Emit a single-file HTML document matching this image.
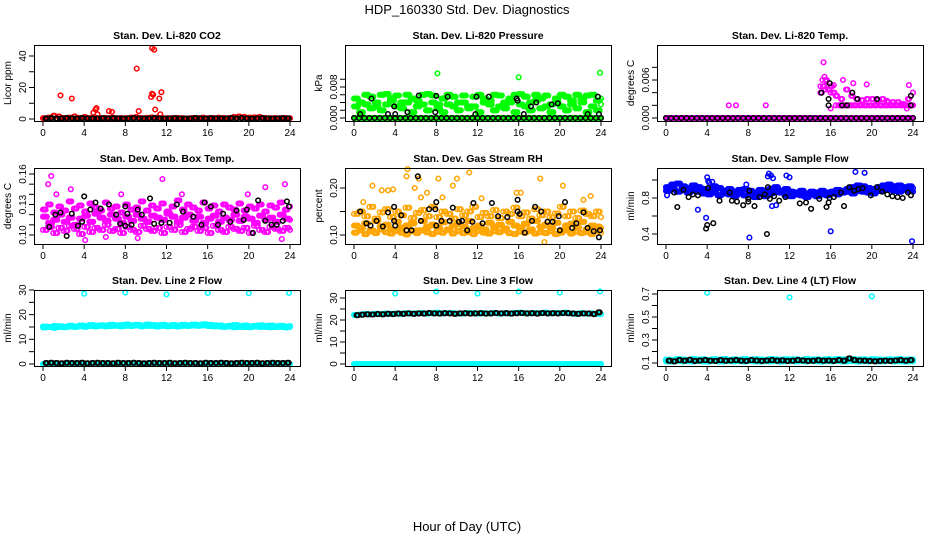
<!DOCTYPE html>
<html><head><meta charset="utf-8"><style>
body{margin:0;background:#fff}
svg{display:block}
text{font-family:"Liberation Sans",sans-serif;fill:#000}
</style></head><body>
<svg id="c" width="936" height="540" viewBox="0 0 936 540" xmlns="http://www.w3.org/2000/svg">
<rect width="936" height="540" fill="#fff"/>
<text x="467" y="14" font-size="13" text-anchor="middle">HDP_160330  Std. Dev. Diagnostics</text>
<text x="467" y="531" font-size="13" text-anchor="middle">Hour of Day (UTC)</text>
</svg>
<script>
const hrs=[0,0.5,1,1.5,2,2.5,3,3.5,4,4.5,5,5.5,6,6.5,7,7.5,8,8.5,9,9.5,10,10.5,11,11.5,12,12.5,13,13.5,14,14.5,15,15.5,16,16.5,17,17.5,18,18.5,19,19.5,20,20.5,21,21.5,22,22.5,23,23.5,24];
const hrsB=[0.25,0.75,1.25,1.75,2.25,2.75,3.25,3.75,4.25,4.75,5.25,5.75,6.25,6.75,7.25,7.75,8.25,8.75,9.25,9.75,10.25,10.75,11.25,11.75,12.25,12.75,13.25,13.75,14.25,14.75,15.25,15.75,16.25,16.75,17.25,17.75,18.25,18.75,19.25,19.75,20.25,20.75,21.25,21.75,22.25,22.75,23.25,23.75];
const hrsC=[0.125,0.625,1.125,1.625,2.125,2.625,3.125,3.625,4.125,4.625,5.125,5.625,6.125,6.625,7.125,7.625,8.125,8.625,9.125,9.625,10.125,10.625,11.125,11.625,12.125,12.625,13.125,13.625,14.125,14.625,15.125,15.625,16.125,16.625,17.125,17.625,18.125,18.625,19.125,19.625,20.125,20.625,21.125,21.625,22.125,22.625,23.125,23.625];
const hrsD=[0.375,0.875,1.375,1.875,2.375,2.875,3.375,3.875,4.375,4.875,5.375,5.875,6.375,6.875,7.375,7.875,8.375,8.875,9.375,9.875,10.375,10.875,11.375,11.875,12.375,12.875,13.375,13.875,14.375,14.875,15.375,15.875,16.375,16.875,17.375,17.875,18.375,18.875,19.375,19.875,20.375,20.875,21.375,21.875,22.375,22.875,23.375,23.875];
const xTicks=[0,4,8,12,16,20,24];
const zeros49=[0,0,0,0,0,0,0,0,0,0,0,0,0,0,0,0,0,0,0,0,0,0,0,0,0,0,0,0,0,0,0,0,0,0,0,0,0,0,0,0,0,0,0,0,0,0,0,0,0];
const zeros48=[0,0,0,0,0,0,0,0,0,0,0,0,0,0,0,0,0,0,0,0,0,0,0,0,0,0,0,0,0,0,0,0,0,0,0,0,0,0,0,0,0,0,0,0,0,0,0,0];
// CO2
const co2Red=[0.5,0.8,2,1.5,0.6,0.8,1.5,0.7,1.2,0.6,0.8,0.6,0.7,0.6,0.5,0.6,0.5,0.8,1.2,0.6,0.7,1,0.8,0.6,0.5,0.5,0.6,0.5,0.4,0.6,0.5,0.8,0.5,0.6,0.8,0.7,0.6,1.2,1.5,1.2,0.8,1.0,1.2,0.6,0.5,0.6,0.5,0.6,0.5];
const co2SpikeX=[1.7,2.8,9.1,10.6,10.8,10.6,10.5,11.5,11.3,10.9,9.3,5.2,6.4,6.7,4.9,5.3,1.1,11.4,5.1,10.7];
const co2SpikeY=[15,13,32,45,44,16,14,17,13,6,5,7,5,4.5,4,3,2,3,6,15.5];
const co2Black=[0.4,0.5,0.3,0.4,0.6,0.4,0.3,0.5,0.4,0.4,0.3,0.5,0.4,0.6,0.4,0.3,0.4,0.5,0.4,0.3,0.4,0.5,0.4,0.3,0.4,0.5,0.4,0.3,0.4,0.6,0.4,0.3,0.5,0.4,0.4,0.3,0.5,0.4,0.6,0.4,0.3,0.4,0.5,0.4,0.3,0.4,0.5,0.4];
// Pressure
const prA=[0.005,0.004,0.006,0.0055,0.003,0.006,0.0062,0.005,0.0058,0.004,0.006,0.005,0.0045,0.006,0.0062,0.0058,0.0035,0.005,0.006,0.0055,0.004,0.0058,0.003,0.0055,0.006,0.005,0.0045,0.006,0.0058,0.004,0.005,0.006,0.0062,0.0055,0.004,0.006,0.005,0.0058,0.0035,0.005,0.006,0.0055,0.0045,0.006,0.005,0.0058,0.006,0.0045,0.005];
const prB=[0.003,0.0015,0.0035,0.0025,0.004,0.002,0.0035,0.0045,0.003,0.0025,0.004,0.0015,0.003,0.0035,0.002,0.004,0.0025,0.0015,0.0035,0.003,0.002,0.004,0.0025,0.003,0.0015,0.004,0.0035,0.002,0.003,0.0025,0.004,0.0015,0.0035,0.003,0.002,0.0045,0.0025,0.003,0.0015,0.004,0.003,0.002,0.0035,0.0025,0.004,0.0015,0.003,0.002,0.0035];
const prOutX=[8.1,16,23.9];
const prOutY=[0.0115,0.0105,0.0117];
const prBlackX=[0.6,1.7,3.3,3.9,4,5.2,6.3,7.9,8,9.1,11.8,11.9,13.1,15.8,15.9,16.5,17.2,17.7,19.2,19.8,22.7,23.7,23.8];
const prBlackY=[0.001,0.005,0.001,0.003,0.001,0.0015,0.0058,0.0015,0.0057,0.0055,0.001,0.0055,0.0055,0.005,0.0045,0.001,0.003,0.004,0.0035,0.0038,0.001,0.0055,0.001];
// Temp
const tmHi=[0,0,0,0,0,0,0,0,0,0,0,0,0,0,0,0,0,0,0,0,0,0,0,0,0,0,0,0,0,0,0.004,0.006,0.005,0.0035,0.003,0.0045,0.0035,0.003,0.0028,0.003,0.003,0.0028,0.003,0.0025,0.0025,0.0025,0.0022,0.003,0.004];
const tmMid=[0,0,0,0,0,0,0,0,0,0,0,0,0,0,0,0,0,0,0,0,0,0,0,0,0,0,0,0,0,0,0.005,0.0045,0.004,0.002,0.002,0.002,0.002,0.002,0.002,0.002,0.002,0.002,0.002,0.002,0.002,0.002,0.002,0.002,0.002];
const tmOutX=[6.1,6.8,9.7,15.3,15.2,17.2,19.5,23.4,16,18.2,15.4,15.6,16.3,21.5,23.6];
const tmOutY=[0.002,0.002,0.002,0.0088,0.006,0.006,0.0053,0.0015,0.0015,0.0055,0.0065,0.0058,0.0052,0.0027,0.0052];
const tmBlackX=[15.1,15.9,15.8,15.8,17.1,17.6,18.1,18.6,20.5,23.8,23.8];
const tmBlackY=[0.004,0.0055,0.003,0.002,0.002,0.002,0.004,0.003,0.003,0.0035,0.002];
// Amb box
const ambA=[0.118,0.112,0.115,0.12,0.113,0.117,0.11,0.116,0.119,0.113,0.121,0.117,0.114,0.12,0.116,0.112,0.118,0.114,0.12,0.116,0.113,0.119,0.117,0.115,0.121,0.118,0.113,0.117,0.12,0.114,0.118,0.112,0.116,0.119,0.113,0.117,0.115,0.12,0.114,0.118,0.116,0.112,0.119,0.115,0.117,0.113,0.12,0.116,0.115];
const ambB=[0.125,0.13,0.122,0.128,0.124,0.133,0.126,0.129,0.123,0.131,0.127,0.124,0.132,0.126,0.128,0.122,0.13,0.125,0.127,0.133,0.124,0.129,0.126,0.131,0.123,0.128,0.134,0.125,0.13,0.127,0.124,0.132,0.126,0.129,0.123,0.13,0.127,0.125,0.131,0.124,0.128,0.126,0.13,0.123,0.129,0.127,0.132,0.125,0.128];
const ambC=[0.105,0.108,0.102,0.107,0.104,0.109,0.106,0.101,0.108,0.103,0.107,0.105,0.11,0.104,0.106,0.102,0.108,0.105,0.103,0.109,0.106,0.104,0.107,0.102,0.108,0.105,0.11,0.103,0.106,0.108,0.104,0.107,0.102,0.109,0.105,0.103,0.108,0.106,0.104,0.107,0.102,0.109,0.105,0.103,0.108,0.106,0.104,0.107,0.105];
const ambOutX=[0.5,0.8,4.4,11.6,23.5,4.1,6.1,23.2,9.2,2.7,1.3,7.6,13.5,19.9,21.6];
const ambOutY=[0.15,0.158,0.165,0.155,0.15,0.095,0.098,0.096,0.097,0.145,0.14,0.14,0.14,0.14,0.147];
const ambBlackX=[0.6,1.2,1.7,2.3,2.8,3.4,3.8,4,4.6,5.1,5.6,6.4,7.1,7.5,8,8,8.2,8.6,9.2,9.6,10.4,10.8,11.5,12.3,13,13.6,14.6,15.4,15.7,16.3,17,17.5,18.2,18.8,19.5,19.8,20.4,20.9,21.6,22.2,22.7,23.3,23.7,23.9];
const ambBlackY=[0.108,0.12,0.122,0.099,0.121,0.109,0.113,0.138,0.125,0.132,0.126,0.13,0.12,0.111,0.128,0.109,0.121,0.11,0.125,0.12,0.136,0.111,0.112,0.112,0.13,0.123,0.118,0.11,0.132,0.128,0.11,0.121,0.113,0.124,0.115,0.125,0.102,0.134,0.114,0.11,0.11,0.114,0.133,0.128];
// RH
const rhA=[0.12,0.115,0.125,0.11,0.13,0.118,0.122,0.112,0.128,0.116,0.12,0.125,0.11,0.13,0.118,0.122,0.115,0.127,0.112,0.12,0.124,0.118,0.13,0.115,0.12,0.112,0.126,0.118,0.122,0.114,0.128,0.12,0.116,0.124,0.112,0.13,0.118,0.122,0.115,0.126,0.11,0.12,0.124,0.116,0.128,0.112,0.12,0.118,0.115];
const rhB=[0.145,0.15,0.14,0.16,0.135,0.148,0.155,0.138,0.15,0.142,0.158,0.136,0.147,0.153,0.14,0.16,0.138,0.15,0.145,0.135,0.155,0.142,0.15,0.16,0.138,0.147,0.14,0.153,0.136,0.15,0.145,0.158,0.14,0.148,0.135,0.155,0.142,0.15,0.138,0.146,0.16,0.14,0.15,0.136,0.152,0.145,0.14,0.15,0.138];
const rhC=[0.105,0.11,0.102,0.108,0.104,0.112,0.106,0.103,0.109,0.105,0.101,0.108,0.104,0.11,0.106,0.102,0.107,0.105,0.111,0.103,0.108,0.104,0.106,0.102,0.109,0.105,0.103,0.108,0.106,0.11,0.104,0.102,0.107,0.105,0.109,0.103,0.106,0.104,0.108,0.102,0.105,0.11,0.103,0.107,0.104,0.106,0.102,0.108,0.105];
const rhOutX=[0.9,1.8,2.7,3.3,3.8,5.1,5.2,5.9,6.3,6.5,7.1,8.2,8.6,9.6,10,11.2,12.4,15.8,16.2,18.1,20.3,22.3,23,18.5];
const rhOutY=[0.17,0.205,0.195,0.195,0.197,0.225,0.24,0.2,0.22,0.18,0.19,0.22,0.18,0.205,0.22,0.233,0.178,0.19,0.19,0.22,0.205,0.175,0.183,0.085];
const rhBlackX=[0.6,1.2,1.6,2.2,2.8,3.3,3.9,3.9,4,4.6,5.1,5.6,6.2,6.5,7.3,7.9,8,8,8.5,9.3,9.6,10.2,10.5,11,11.5,11.6,12.5,13.4,14,14.9,15.9,15.9,16.1,16.6,17.3,17.6,18.2,18.8,19.3,19.9,20,20.5,21.2,21.6,22.3,22.7,23.3,23.8,23.9];
const rhBlackY=[0.15,0.125,0.12,0.13,0.118,0.148,0.16,0.13,0.12,0.142,0.11,0.11,0.225,0.13,0.155,0.155,0.12,0.17,0.13,0.13,0.158,0.128,0.13,0.11,0.128,0.168,0.125,0.168,0.14,0.138,0.175,0.15,0.145,0.105,0.13,0.16,0.15,0.128,0.128,0.14,0.11,0.17,0.115,0.125,0.148,0.115,0.108,0.095,0.11];
// Sample flow
const flA=[0.92,0.95,0.96,0.93,0.91,0.94,0.92,0.9,0.89,0.93,0.91,0.88,0.9,0.87,0.89,0.9,0.88,0.86,0.89,0.87,0.9,0.92,0.88,0.9,0.87,0.86,0.88,0.85,0.87,0.86,0.88,0.86,0.87,0.89,0.88,0.9,0.92,0.94,0.93,0.91,0.9,0.92,0.94,0.95,0.93,0.94,0.92,0.93,0.91];
const flB=[0.88,0.9,0.87,0.89,0.86,0.88,0.87,0.85,0.84,0.86,0.83,0.85,0.84,0.82,0.85,0.83,0.84,0.81,0.84,0.82,0.85,0.87,0.86,0.83,0.82,0.84,0.83,0.81,0.84,0.82,0.84,0.83,0.85,0.84,0.86,0.87,0.85,0.88,0.87,0.86,0.85,0.88,0.89,0.9,0.88,0.87,0.89,0.88,0.87];
const flOutX=[3.1,3.9,4,4.1,4.2,4.5,9.9,10,10.2,10.4,10.7,12,8.1,16,23.9,11.7,18.4,19.3,0.1,10.3,7.8];
const flOutY=[0.67,0.58,1.03,0.99,0.97,0.98,1.04,1.07,1.05,1.02,0.72,1.03,0.36,0.43,0.32,1.05,1.09,1.08,0.83,0.71,0.95];
const flBlackX=[0.8,1.1,1.7,2.2,2.6,3.1,3.9,4,4.1,4.6,5.2,6.2,6.4,6.9,7.5,8,8,8.1,8.6,9.1,9.6,9.8,9.9,10.1,10.5,11,11.6,13,13.6,14.1,14.9,15.6,15.8,15.9,16.3,17,17.3,17.8,18.3,18.7,19.1,19.9,20.5,21,21.5,22,22.5,23,23.5,23.8];
const flBlackY=[0.86,0.7,0.89,0.81,0.84,0.83,0.46,0.5,0.91,0.52,0.77,0.86,0.77,0.76,0.72,0.79,0.76,0.88,0.71,0.81,0.84,0.4,0.92,0.79,0.82,0.77,0.81,0.74,0.75,0.68,0.79,0.7,0.75,0.8,0.81,0.86,0.71,0.92,0.88,0.9,0.91,0.83,0.92,0.87,0.84,0.82,0.81,0.8,0.86,0.83];
// Line 2
const l2A=[15.2,15.0,15.4,15.3,15.1,15.5,15.2,15.6,15.4,15.8,15.5,15.7,15.6,15.9,15.5,15.8,16.0,15.7,15.9,15.6,16.0,15.8,15.7,15.9,15.5,15.8,15.6,15.9,15.7,16.0,15.8,16.1,15.9,15.7,15.6,15.3,15.5,15.8,15.4,15.6,15.3,15.5,15.7,15.4,15.6,15.3,15.5,15.2,15.4];
const l2B=[14.8,15.0,14.7,15.1,14.9,15.2,15.0,15.3,15.1,15.4,15.2,15.5,15.3,15.4,15.6,15.3,15.5,15.4,15.6,15.3,15.5,15.4,15.2,15.5,15.3,15.4,15.2,15.5,15.4,15.6,15.5,15.7,15.4,15.3,15.2,15.0,15.2,14.9,15.1,15.0,14.9,15.2,15.0,15.1,14.9,15.0,15.1,14.8,15.0];
const l2OutX=[4,8,12,16,20,23.9];
const l2OutY=[28.5,29,28.2,28.8,28.7,28.8];
const l2Black=[0.4,0.5,0.4,0.3,0.5,0.4,0.4,0.5,0.3,0.4,0.5,0.4,0.4,0.3,0.5,0.4,0.4,0.5,0.4,0.3,0.4,0.5,0.4,0.4,0.5,0.3,0.4,0.5,0.4,0.4,0.3,0.5,0.4,0.4,0.5,0.4,0.3,0.4,0.5,0.4,0.4,0.5,0.3,0.4,0.5,0.4,0.4,0.5];
// Line 3
const l3A=[22.3,22.5,22.7,22.6,22.8,22.7,22.9,22.8,23.0,22.8,23.1,22.9,23.0,23.2,22.9,23.1,23.3,23.0,23.2,23.1,22.9,23.0,23.2,23.1,22.9,23.1,23.0,23.2,22.9,23.1,23.0,23.2,23.3,23.1,23.0,23.2,23.1,23.3,23.0,23.2,23.1,23.3,23.0,22.8,23.1,22.9,23.0,22.8,22.7];
const l3OutX=[4,8,12,16,20,23.9];
const l3OutY=[32,33,32,33,32.5,33];
const l3Black=[22.2,22.4,22.6,22.5,22.7,22.6,22.8,22.7,22.9,22.8,23.0,22.8,23.0,22.9,23.2,23.0,22.9,23.1,23.0,22.8,23.0,23.1,22.9,23.0,23.1,22.9,23.0,23.2,23.0,23.1,22.9,23.1,23.2,23.0,23.1,22.9,23.2,23.0,23.1,23.0,23.2,23.1,22.9,22.8,23.0,22.9,22.7,23.5];
// Line 4
const l4A=[0.13,0.125,0.135,0.13,0.128,0.134,0.13,0.132,0.127,0.133,0.13,0.135,0.128,0.132,0.13,0.134,0.129,0.133,0.13,0.128,0.134,0.131,0.129,0.133,0.13,0.132,0.128,0.134,0.13,0.132,0.129,0.133,0.13,0.135,0.131,0.128,0.134,0.13,0.132,0.129,0.133,0.13,0.128,0.132,0.13,0.134,0.129,0.131,0.13];
const l4B=[0.115,0.112,0.118,0.114,0.116,0.113,0.117,0.114,0.112,0.118,0.115,0.113,0.117,0.114,0.116,0.112,0.118,0.115,0.113,0.116,0.114,0.117,0.112,0.115,0.118,0.114,0.116,0.113,0.117,0.115,0.112,0.116,0.114,0.118,0.113,0.115,0.117,0.112,0.116,0.114,0.118,0.113,0.115,0.117,0.114,0.116,0.112,0.115,0.114];
const l4OutX=[4,12,20];
const l4OutY=[0.71,0.67,0.68];
const l4Black=[0.12,0.115,0.125,0.12,0.128,0.118,0.122,0.125,0.12,0.118,0.124,0.12,0.122,0.125,0.12,0.118,0.125,0.121,0.118,0.122,0.125,0.12,0.123,0.118,0.12,0.125,0.122,0.118,0.12,0.124,0.12,0.122,0.118,0.125,0.12,0.14,0.125,0.122,0.12,0.118,0.115,0.118,0.12,0.118,0.122,0.125,0.12,0.125];
// Y ticks
const co2Ticks=[0,10,20,30,40], co2Labels=['0','','20','','40'];
const prTicks=[0,0.002,0.004,0.006,0.008,0.010], prLabels=['0.000','','','','0.008',''];
const tmTicks=[0,0.002,0.004,0.006,0.008], tmLabels=['0.000','','','0.006',''];
const ambTicks=[0.10,0.11,0.12,0.13,0.14,0.15,0.16], ambLabels=['0.10','','','0.13','','','0.16'];
const rhTicks=[0.10,0.15,0.20], rhLabels=['0.10','','0.20'];
const flTicks=[0.4,0.6,0.8,1.0], flLabels=['0.4','','0.8',''];
const lnTicks=[0,5,10,15,20,25,30], lnLabels=['0','','10','','20','','30'];
const l4Ticks=[0.1,0.2,0.3,0.4,0.5,0.6,0.7], l4Labels=['0.1','','0.3','','0.5','','0.7'];

const RED='#ff0000',GRN='#00ff00',MAG='#ff00ff',ORG='#ffa500',BLU='#0000ff',CYN='#00ffff',BLK='#000000';
const colLeft=[34,345,657], boxW=266, rowTop=[45,168,290], boxH=76;
const panels=[
 {name:'co2',title:'Stan. Dev. Li-820 CO2',ylab:'Licor ppm',c:0,r:0,a:[0,74,40,11],ticks:co2Ticks,labels:co2Labels,
  series:[[hrs,co2Red,RED],[hrsC,co2Red,RED],[co2SpikeX,co2SpikeY,RED],[hrsB,co2Black,BLK],[hrsD,co2Black,BLK]]},
 {name:'pressure',title:'Stan. Dev. Li-820 Pressure',ylab:'kPa',c:1,r:0,a:[0,73,0.008,42],ticks:prTicks,labels:prLabels,
  series:[[hrs,prA,GRN],[hrsB,prA,GRN],[hrsC,prB,GRN],[hrsD,prA,GRN],[hrs,prB,GRN],[hrsB,prB,GRN],[hrsD,prB,GRN],[hrsC,prA,GRN],[hrs,zeros49,GRN],[hrsB,zeros48,GRN],[hrsC,zeros48,GRN],[hrsD,zeros48,GRN],[prOutX,prOutY,GRN],[hrs,zeros49,BLK],[prBlackX,prBlackY,BLK]]},
 {name:'temp',title:'Stan. Dev. Li-820 Temp.',ylab:'degrees C',c:2,r:0,a:[0,73,0.006,35],ticks:tmTicks,labels:tmLabels,
  series:[[hrs,zeros49,MAG],[hrsB,zeros48,MAG],[hrsC,zeros48,MAG],[hrsD,zeros48,MAG],[hrs,tmHi,MAG],[hrsC,tmHi,MAG],[hrs,tmMid,MAG],[hrsB,tmMid,MAG],[hrsD,tmMid,MAG],[tmOutX,tmOutY,MAG],[hrs,zeros49,BLK],[tmBlackX,tmBlackY,BLK]]},
 {name:'amb-box-temp',title:'Stan. Dev. Amb. Box Temp.',ylab:'degrees C',c:0,r:1,a:[0.10,67,0.16,6],ticks:ambTicks,labels:ambLabels,
  series:[[hrs,ambA,MAG],[hrsB,ambA,MAG],[hrsC,ambB,MAG],[hrsD,ambC,MAG],[hrs,ambB,MAG],[hrsB,ambB,MAG],[hrsC,ambA,MAG],[hrs,ambC,MAG],[hrsB,ambC,MAG],[hrsD,ambA,MAG],[ambOutX,ambOutY,MAG],[ambBlackX,ambBlackY,BLK]]},
 {name:'gas-stream-rh',title:'Stan. Dev. Gas Stream RH',ylab:'percent',c:1,r:1,a:[0.10,67,0.20,20],ticks:rhTicks,labels:rhLabels,
  series:[[hrs,rhA,ORG],[hrsB,rhA,ORG],[hrsC,rhC,ORG],[hrsD,rhB,ORG],[hrs,rhB,ORG],[hrsB,rhB,ORG],[hrsC,rhA,ORG],[hrs,rhC,ORG],[hrsB,rhC,ORG],[hrsD,rhA,ORG],[rhOutX,rhOutY,ORG],[rhBlackX,rhBlackY,BLK]]},
 {name:'sample-flow',title:'Stan. Dev. Sample Flow',ylab:'ml/min',c:2,r:1,a:[0.4,66,0.8,30],ticks:flTicks,labels:flLabels,
  series:[[hrs,flA,BLU],[hrsB,flA,BLU],[hrsC,flB,BLU],[hrsD,flA,BLU],[hrs,flB,BLU],[hrsB,flB,BLU],[hrsC,flA,BLU],[hrsD,flB,BLU],[flOutX,flOutY,BLU],[flBlackX,flBlackY,BLK]]},
 {name:'line2-flow',title:'Stan. Dev. Line 2 Flow',ylab:'ml/min',c:0,r:2,a:[0,74,30,0],ticks:lnTicks,labels:lnLabels,
  series:[[hrs,l2A,CYN],[hrsB,l2A,CYN],[hrsC,l2B,CYN],[hrsD,l2A,CYN],[hrs,l2B,CYN],[hrsB,l2B,CYN],[hrs,zeros49,CYN],[hrsC,zeros48,CYN],[l2OutX,l2OutY,CYN],[hrsB,l2Black,BLK],[hrsD,l2Black,BLK]]},
 {name:'line3-flow',title:'Stan. Dev. Line 3 Flow',ylab:'ml/min',c:1,r:2,a:[0,74,30,8],ticks:lnTicks,labels:lnLabels,
  series:[[hrs,l3A,CYN],[hrsB,l3A,CYN],[hrsC,l3A,CYN],[hrs,zeros49,CYN],[hrsB,zeros48,CYN],[hrsC,zeros48,CYN],[hrsD,zeros48,CYN],[l3OutX,l3OutY,CYN],[hrsB,l3Black,BLK],[hrsD,l3Black,BLK]]},
 {name:'line4-flow',title:'Stan. Dev. Line 4 (LT) Flow',ylab:'ml/min',c:2,r:2,a:[0.1,73,0.7,4],ticks:l4Ticks,labels:l4Labels,
  series:[[hrs,l4A,CYN],[hrsB,l4A,CYN],[hrsC,l4B,CYN],[hrsD,l4A,CYN],[hrs,l4B,CYN],[hrsB,l4B,CYN],[l4OutX,l4OutY,CYN],[hrsB,l4Black,BLK],[hrsD,l4Black,BLK]]}
];
const svg=document.getElementById('c');
const NS='http://www.w3.org/2000/svg';
function mk(tag,attrs,parent){const e=document.createElementNS(NS,tag);for(const k in attrs)e.setAttribute(k,attrs[k]);parent.appendChild(e);return e;}
panels.forEach(p=>{
  const L=colLeft[p.c],T=rowTop[p.r],B=T+boxH;
  const g=mk('g',{},svg);
  
  
  const xs=h=>L+9+h*(247/24);
  const ys=v=>T+p.a[1]+(v-p.a[0])*(p.a[3]-p.a[1])/(p.a[2]-p.a[0]);
  const t=mk('text',{x:L+boxW/2,y:T-6,'font-size':'10.5','font-weight':'bold','text-anchor':'middle'},g);
  t.textContent=p.title;
  
  
  const yl=mk('text',{transform:`translate(${L-23},${T+boxH/2}) rotate(-90)`,'font-size':'10','text-anchor':'middle'},g);
  yl.textContent=p.ylab;
  
  
  const mg=mk('g',{fill:'none','stroke-width':'1.5'},g);
  
  
  p.series.forEach(s=>{
    const [X,Y,col]=s;const n=Math.min(X.length,Y.length);
    for(let i=0;i<n;i++){
      const cy=ys(Y[i]); if(cy<T+1||cy>B-1)continue;
      const c=mk('circle',{cx:xs(X[i]).toFixed(1),cy:cy.toFixed(1),r:'2.3',stroke:col},mg);
      
      
    }
  });
  const bx=mk('rect',{x:L+0.5,y:T+0.5,width:boxW,height:boxH,fill:'none',stroke:'#000','stroke-width':'1'},g);
  
  
  xTicks.forEach(h=>{
    mk('line',{x1:xs(h),x2:xs(h),y1:B,y2:B+5,stroke:'#000'},g);
    const tx=mk('text',{x:xs(h),y:B+15,'font-size':'10','text-anchor':'middle'},g);
    tx.textContent=h;
    
    
  });
  mk('line',{x1:xs(0),x2:xs(24),y1:B+0.5,y2:B+0.5,stroke:'#000'},g);
  p.ticks.forEach((v,i)=>{
    const y=ys(v); if(y<T-1)return;
    mk('line',{x1:L-5,x2:L,y1:y,y2:y,stroke:'#000'},g);
    if(p.labels[i]){
      const ty=mk('text',{transform:`translate(${L-8},${y}) rotate(-90)`,'font-size':'10','text-anchor':'middle'},g);
      ty.textContent=p.labels[i];
      
      
    }
  });
});
</script>
</body></html>
